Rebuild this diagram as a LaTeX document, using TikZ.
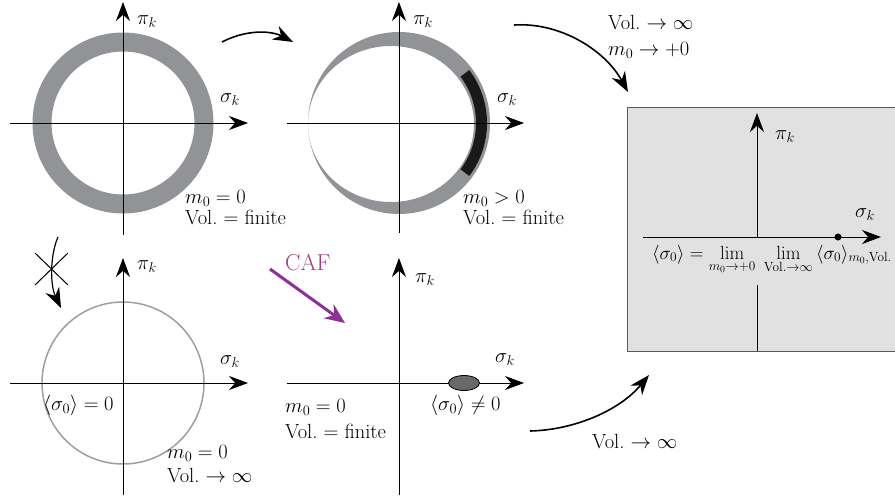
\RequirePackage{fix-cm}
\documentclass[tikz,border=0pt]{standalone}
\usepackage{amsmath}
\usetikzlibrary{arrows.meta,shapes.geometric,calc}
\definecolor{ringgray}{RGB}{146,147,150}
\definecolor{lightring}{RGB}{158,158,158}
\definecolor{boxgray}{RGB}{225,225,225}
\definecolor{boxedge}{RGB}{90,90,90}
\definecolor{blobgray}{RGB}{105,105,105}
\definecolor{cafpurple}{RGB}{138,48,150}
\definecolor{caftext}{RGB}{160,60,130}
\definecolor{bandblack}{RGB}{25,25,25}
\tikzset{
  axisline/.style={line width=0.8pt,-{Stealth[length=19pt,width=14pt]}},
  plainline/.style={line width=0.8pt},
  flow/.style={line width=1.6pt,-{Stealth[length=20pt,width=15pt]}},
  lbl/.style={inner sep=0pt,font=\fontsize{20.5}{24}\selectfont},
}
\begin{document}
\begin{tikzpicture}[x=1pt,y=-1pt]
\useasboundingbox (0,0) rectangle (895,499);

% ---------- panel 1 ----------
\coordinate (o1) at (123,123);
\draw[ringgray,line width=19pt] (o1) circle (81pt);
\coordinate (h1a) at (10,123); \coordinate (h1b) at (248,123);
\coordinate (v1a) at (123,235); \coordinate (v1b) at (123,2);
\draw[axisline] (h1a) -- (h1b);
\draw[axisline] (v1a) -- (v1b);
\node[lbl,anchor=west] (pi1) at (137,22) {$\pi_k$};
\node[lbl,anchor=west] (s1) at (220,100) {$\sigma_k$};
\node[lbl,anchor=base west] (m1) at (185,203) {$m_0=0$};
\node[lbl,anchor=base west] (v1) at (185,224) {Vol.\ $=$ finite};

% ---------- panel 2 ----------
\coordinate (o2) at (399,123);
\fill[ringgray,even odd rule] (o2) circle (91pt) (391,124) ellipse (83pt and 78pt);
\fill[bandblack] ([shift={(o2)}]37:88pt) arc[start angle=37,end angle=-37,radius=88pt]
   -- ([shift={(o2)}]-37:77pt) arc[start angle=-37,end angle=37,radius=77pt] -- cycle;
\coordinate (h2a) at (287,123); \coordinate (h2b) at (524,123);
\coordinate (v2a) at (399,233); \coordinate (v2b) at (399,2);
\draw[axisline] (h2a) -- (h2b);
\draw[axisline] (v2a) -- (v2b);
\node[lbl,anchor=west] (pi2) at (413,22) {$\pi_k$};
\node[lbl,anchor=west] (s2) at (497,100) {$\sigma_k$};
\node[lbl,anchor=base west] (m2) at (463,203) {$m_0>0$};
\node[lbl,anchor=base west] (v2) at (463,224) {Vol.\ $=$ finite};

% ---------- panel 3 ----------
\coordinate (o3) at (123,383);
\draw[lightring,line width=1.5pt] (o3) circle (81pt);
\coordinate (h3a) at (10,383); \coordinate (h3b) at (248,383);
\coordinate (v3a) at (123,495); \coordinate (v3b) at (123,258);
\draw[axisline] (h3a) -- (h3b);
\draw[axisline] (v3a) -- (v3b);
\node[lbl,anchor=west] (pi3) at (137,267) {$\pi_k$};
\node[lbl,anchor=west] (s3) at (220,362) {$\sigma_k$};
\node[lbl,anchor=base west] (e3) at (43,410) {$\langle\sigma_0\rangle=0$};
\node[lbl,anchor=base west] (m3) at (167,458) {$m_0=0$};
\node[lbl,anchor=base west] (v3) at (167,482) {Vol.\ $\to\infty$};

% ---------- panel 4 ----------
\coordinate (o4) at (399,383);
\coordinate (h4a) at (287,383); \coordinate (h4b) at (524,383);
\coordinate (v4a) at (399,495); \coordinate (v4b) at (399,258);
\draw[axisline] (h4a) -- (h4b);
\draw[axisline] (v4a) -- (v4b);
\node[ellipse,draw=black,line width=0.8pt,fill=blobgray,minimum width=31pt,minimum height=15pt,inner sep=0pt] (blob) at (464,383) {};
\node[lbl,anchor=west] (pi4) at (415,280) {$\pi_k$};
\node[lbl,anchor=west] (s4) at (495,360) {$\sigma_k$};
\node[lbl,anchor=base west] (e4) at (430,410) {$\langle\sigma_0\rangle\neq0$};
\node[lbl,anchor=base west] (m4) at (285,412) {$m_0=0$};
\node[lbl,anchor=base west] (v4) at (285,438) {Vol.\ $=$ finite};

% ---------- result box ----------
\draw[fill=boxgray,draw=boxedge,line width=1pt] (627,107) rectangle (895,351);
\coordinate (o5) at (757,237);
\coordinate (h5a) at (643,237); \coordinate (h5b) at (881,237);
\coordinate (v5a) at (757,351); \coordinate (v5g) at (757,285);
\coordinate (v5b) at (757,113);
\draw[plainline] (v5a) -- (v5g);
\draw[axisline] (o5) -- (v5b);
\draw[axisline] (h5a) -- (h5b);
\node[inner sep=0pt,font=\fontsize{19}{23}\selectfont,anchor=base west] (lim) at (652,259)
  {$\langle\sigma_0\rangle=\lim\limits_{m_0\to+0}\;\lim\limits_{\mathrm{Vol.}\to\infty}\,\langle\sigma_0\rangle_{m_0,\mathrm{Vol.}}$};
\fill[black] (838,237) circle (3.5pt);
\node[lbl,anchor=west] (pi5) at (775,137) {$\pi_k$};
\node[lbl,anchor=west] (s5) at (855,215) {$\sigma_k$};

% ---------- connectors ----------
\coordinate (a1s) at (222,42); \coordinate (a1e) at (293,42);
\draw[flow] (a1s) .. controls (245,30) and (270,30) .. (a1e);

\coordinate (a2s) at (514,25); \coordinate (a2e) at (628,92);
\draw[flow] (a2s) .. controls (560,22) and (605,50) .. (a2e);
\node[lbl,anchor=base west] (t2a) at (608,29) {Vol.\ $\to\infty$};
\node[lbl,anchor=base west] (t2b) at (608,55) {$m_0\to+0$};

\coordinate (a3s) at (530,431); \coordinate (a3e) at (649,375);
\draw[flow] (a3s) .. controls (575,430) and (620,410) .. (a3e);
\node[lbl,anchor=base west] (t3) at (592,448) {Vol.\ $\to\infty$};

\coordinate (a4s) at (58,237); \coordinate (a4e) at (61,308);
\draw[flow,line width=1.2pt] (a4s) .. controls (50,255) and (50,285) .. (a4e);
\coordinate (x1) at (35,253); \coordinate (x2) at (68,285);
\coordinate (x3) at (68,253); \coordinate (x4) at (35,285);
\draw[line width=1pt] (x1) -- (x2);
\draw[line width=1pt] (x3) -- (x4);

\coordinate (cafs) at (270,269); \coordinate (cafe) at (345,323);
\draw[cafpurple,line width=3pt,-{Stealth[length=20pt,width=17pt]}] (cafs) -- (cafe);
\node[inner sep=0pt,font=\fontsize{23}{27}\selectfont,anchor=base west,text=caftext] (caf) at (285,270) {CAF};
\end{tikzpicture}
\end{document}
